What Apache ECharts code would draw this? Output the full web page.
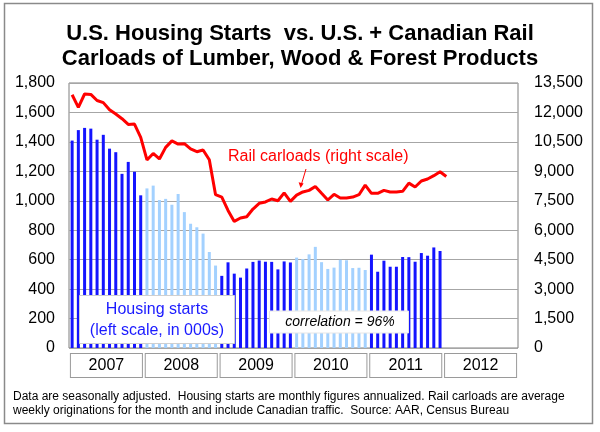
<!DOCTYPE html>
<html>
<head>
<meta charset="utf-8">
<script src="https://cdn.jsdelivr.net/npm/echarts@6/dist/echarts.min.js"></script>
<style>
  html, body { margin: 0; padding: 0; background: #fff; }
  #chart { width: 600px; height: 432px; }
</style>
</head>
<body>
<div id="chart"></div>
<script>
// year bands along the bottom
var years = ['2007', '2008', '2009', '2010', '2011', '2012'];
// one bar colour per year
var yearColors = ['#1414ff', '#a3d1ff', '#1414ff', '#a3d1ff', '#1414ff', '#a3d1ff'];

// U.S. housing starts, monthly, annualized (000s), Jan 2007 - Dec 2011
var housingStarts = [
  1409, 1480, 1495, 1490, 1415, 1448, 1354, 1330, 1183, 1264, 1197, 1037,
  1084, 1103, 1005, 1013, 973, 1046, 923, 844, 820, 777, 652, 560,
  490, 582, 505, 478, 540, 585, 594, 586, 585, 534, 588, 581,
  614, 604, 636, 687, 583, 537, 546, 599, 596, 543, 545, 530,
  634, 518, 593, 552, 552, 618, 617, 586, 645, 627, 683, 659
];

// U.S. + Canadian rail carloads of lumber & wood, avg weekly, Jan 2007 - Jan 2012
var railCarloads = [
  12900, 12260, 12940, 12920, 12610, 12500, 12140, 11920, 11680, 11390, 11410, 10730,
  9580, 9910, 9630, 10220, 10550, 10390, 10410, 10140, 10000, 10090, 9590, 7810,
  7690, 7010, 6450, 6620, 6690, 7080, 7370, 7440, 7590, 7500, 7900, 7470,
  7790, 7950, 8030, 8230, 7880, 7540, 7830, 7640, 7640, 7690, 7810, 8300,
  7880, 7880, 8030, 7950, 7950, 7980, 8400, 8200, 8510, 8610, 8780, 8980,
  8740
];

// month categories
var months = [];
for (var y = 0; y < years.length; y++) {
  for (var m = 1; m <= 12; m++) {
    months.push(years[y] + '-' + m);
  }
}

var FONT = '"Liberation Sans", Arial, sans-serif';

function commas(v) {
  return String(v).replace(/\B(?=(\d{3})+(?!\d))/g, ',');
}

var chart = echarts.init(document.getElementById('chart'), null, { renderer: 'canvas' });

var option = {
  backgroundColor: '#fff',
  animation: false,
  textStyle: { fontFamily: FONT },
  title: {
    text: 'U.S. Housing Starts  vs. U.S. + Canadian Rail\nCarloads of Lumber, Wood & Forest Products',
    left: 'center',
    top: 16,
    textStyle: {
      fontFamily: FONT,
      fontSize: 22,
      fontWeight: 'bold',
      color: '#000',
      lineHeight: 25
    }
  },
  grid: {
    left: 69,
    right: 82,
    top: 83,
    bottom: 84,
    show: true,
    borderColor: '#7f7f7f',
    borderWidth: 1,
    backgroundColor: 'transparent'
  },
  xAxis: [{
    type: 'category',
    data: months,
    boundaryGap: true,
    axisLine: { show: false },
    axisTick: { show: false },
    axisLabel: { show: false },
    splitLine: { show: false }
  }, {
    type: 'category',
    data: years,
    position: 'bottom',
    axisLine: { show: false },
    axisTick: { show: false },
    splitLine: { show: false },
    axisLabel: {
      interval: 0,
      margin: 6,
      fontFamily: FONT,
      fontSize: 16,
      color: '#000',
      backgroundColor: '#fff',
      borderColor: '#9a9a9a',
      borderWidth: 1,
      width: 71,
      height: 23,
      lineHeight: 23,
      align: 'center',
      padding: 0
    }
  }],
  yAxis: [{
    type: 'value',
    min: 0,
    max: 1800,
    interval: 200,
    axisLine: { show: false },
    axisTick: { show: false },
    axisLabel: {
      margin: 14,
      fontFamily: FONT,
      fontSize: 16,
      color: '#000',
      formatter: commas
    },
    splitLine: { lineStyle: { color: '#a6a6a6', width: 1 } }
  }, {
    type: 'value',
    min: 0,
    max: 13500,
    interval: 1500,
    axisLine: { show: false },
    axisTick: { show: false },
    axisLabel: {
      margin: 16,
      fontFamily: FONT,
      fontSize: 16,
      color: '#000',
      formatter: commas
    },
    splitLine: { show: false }
  }],
  series: [{
    name: 'Housing starts',
    type: 'bar',
    xAxisIndex: 0,
    yAxisIndex: 0,
    barWidth: 3,
    data: housingStarts,
    itemStyle: {
      color: function (p) { return yearColors[Math.floor(p.dataIndex / 12)]; }
    },
    z: 2
  }, {
    name: 'Rail carloads',
    type: 'line',
    xAxisIndex: 0,
    yAxisIndex: 1,
    data: railCarloads,
    showSymbol: false,
    symbol: 'none',
    lineStyle: { color: '#ff0000', width: 3 },
    z: 4
  }],
  graphic: [
    // outer frame
    {
      type: 'rect',
      shape: { x: 4.5, y: 3.5, width: 588, height: 420 },
      style: { fill: 'none', stroke: '#8a8a8a', lineWidth: 1.5 },
      silent: true
    },
    // housing starts label box
    {
      type: 'rect',
      z: 100,
      shape: { x: 79.5, y: 295.5, width: 155, height: 48 },
      style: { fill: '#fff', stroke: '#cfcfcf', lineWidth: 1 }
    },
    {
      type: 'text',
      z: 101,
      x: 157,
      y: 320,
      style: {
        text: 'Housing starts\n(left scale, in 000s)',
        fontFamily: FONT,
        fontSize: 16,
        lineHeight: 21,
        fill: '#1a1aff',
        align: 'center',
        verticalAlign: 'middle'
      }
    },
    // correlation box
    {
      type: 'rect',
      z: 100,
      shape: { x: 269.5, y: 311, width: 139, height: 22 },
      style: { fill: '#fff', stroke: '#e6e6e6', lineWidth: 1 }
    },
    {
      type: 'text',
      z: 101,
      x: 340,
      y: 322,
      style: {
        text: 'correlation = 96%',
        fontFamily: FONT,
        fontSize: 14,
        fontStyle: 'italic',
        fill: '#000',
        align: 'center',
        verticalAlign: 'middle'
      }
    },
    // rail carloads label with arrow
    {
      type: 'text',
      z: 100,
      x: 228,
      y: 157,
      style: {
        text: 'Rail carloads (right scale)',
        fontFamily: FONT,
        fontSize: 16,
        fill: '#ff0000',
        align: 'left',
        verticalAlign: 'middle'
      }
    },
    {
      type: 'line',
      z: 100,
      shape: { x1: 306, y1: 169, x2: 301.5, y2: 184 },
      style: { stroke: '#ff0000', lineWidth: 1 }
    },
    {
      type: 'polygon',
      z: 100,
      shape: { points: [[298.6, 182.2], [303.6, 183.6], [300.6, 188]] },
      style: { fill: '#ff0000' }
    },
    // footnote
    {
      type: 'text',
      x: 13,
      y: 404,
      style: {
        text: 'Data are seasonally adjusted.  Housing starts are monthly figures annualized. Rail carloads are average\nweekly originations for the month and include Canadian traffic.  Source: AAR, Census Bureau',
        fontFamily: FONT,
        fontSize: 12,
        lineHeight: 14,
        fill: '#000',
        align: 'left',
        verticalAlign: 'middle'
      }
    }
  ]
};

chart.setOption(option);
</script>
</body>
</html>
